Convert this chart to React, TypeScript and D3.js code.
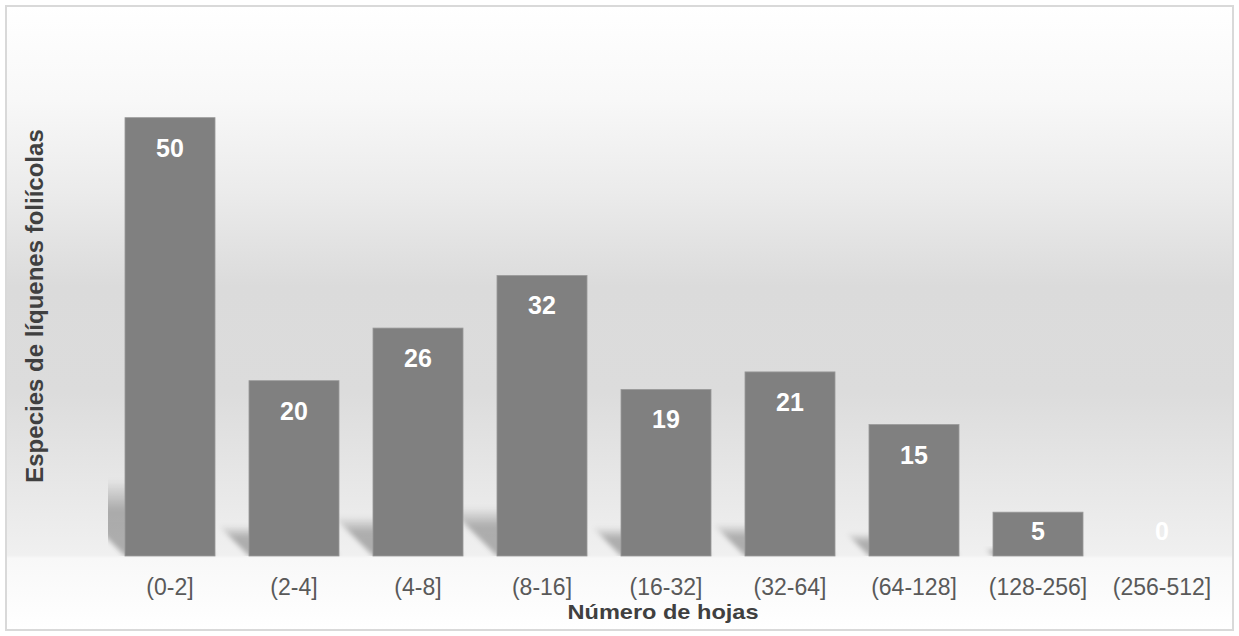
import React from "react";
import * as d3 from "d3";

const categories = ["(0-2]", "(2-4]", "(4-8]", "(8-16]", "(16-32]", "(32-64]", "(64-128]", "(128-256]", "(256-512]"];
const values = [50, 20, 26, 32, 19, 21, 15, 5, 0];
const yTitle = "Especies de líquenes foliícolas";
const xTitle = "Número de hojas";

const W = 1239;
const H = 636;
const plot = { left: 108, right: 1224, top: 30, bottom: 556 };
const font = "'Liberation Sans', Arial, sans-serif";

export default function App() {
  const x = d3
    .scaleBand<string>()
    .domain(categories)
    .range([plot.left, plot.right])
    .paddingInner(0.274)
    .paddingOuter(0.137);
  const y = d3.scaleLinear().domain([0, 60]).range([plot.bottom, plot.top]);
  const bw = x.bandwidth();
  const base = y(0);

  return (
    <svg
      width={W}
      height={H}
      style={{ position: "absolute", left: 0, top: 0, fontFamily: font }}
    >
      <defs>
        <linearGradient id="bg" x1="0" y1="0" x2="0" y2="1">
          <stop offset="0" stopColor="#ffffff" />
          <stop offset="0.15" stopColor="#f8f8f8" />
          <stop offset="0.3" stopColor="#ebebeb" />
          <stop offset="0.45" stopColor="#dbdbdb" />
          <stop offset="0.62" stopColor="#dcdcdc" />
          <stop offset="0.75" stopColor="#e6e6e6" />
          <stop offset="0.88" stopColor="#f0f0f0" />
          <stop offset="0.885" stopColor="#f8f8f8" />
          <stop offset="1" stopColor="#ffffff" />
        </linearGradient>
        <linearGradient id="shadowGrad" x1="0" y1="0" x2="0" y2="1">
          <stop offset="0" stopColor="#000" stopOpacity="0" />
          <stop offset="0.4" stopColor="#000" stopOpacity="0.27" />
          <stop offset="1" stopColor="#000" stopOpacity="0.28" />
        </linearGradient>
        <filter id="blur" x="-20%" y="-30%" width="140%" height="160%">
          <feGaussianBlur stdDeviation="2.5" />
        </filter>
        <clipPath id="plotClip">
          <rect x={plot.left} y={plot.top} width={plot.right - plot.left} height={base - plot.top} />
        </clipPath>
      </defs>

      <rect x={6} y={6} width={W - 12} height={H - 12} fill="url(#bg)" stroke="#d9d9d9" strokeWidth={2} />

      <g clipPath="url(#plotClip)">
        {categories.map((c, i) => {
          const x0 = x(c)!;
          const x1 = x0 + bw;
          const sh = (base - y(values[i])) * 0.175;
          if (sh <= 0) return null;
          const pts = [
            [x0, base],
            [x1, base],
            [x1 - sh, base - sh],
            [x0 - sh, base - sh],
          ]
            .map((p) => p.join(","))
            .join(" ");
          return <polygon key={"s" + c} points={pts} fill="url(#shadowGrad)" filter="url(#blur)" />;
        })}
      </g>

      {categories.map((c, i) => {
        const top = y(values[i]);
        return (
          <rect
            key={"b" + c}
            x={x(c)!}
            y={top}
            width={bw}
            height={base - top}
            fill="#808080"
            stroke="#9a9a9a"
            strokeWidth={0.8}
          />
        );
      })}

      {categories.map((c, i) => {
        const top = y(values[i]);
        const ly = Math.min(top + 39, base - 16);
        return (
          <text
            key={"l" + c}
            x={x(c)! + bw / 2}
            y={ly}
            textAnchor="middle"
            fill="#ffffff"
            fontWeight="bold"
            fontSize={25}
          >
            {values[i]}
          </text>
        );
      })}

      {categories.map((c) => (
        <text
          key={"t" + c}
          x={x(c)! + bw / 2}
          y={595}
          textAnchor="middle"
          fill="#595959"
          fontSize={23}
        >
          {c}
        </text>
      ))}

      <text
        x={663}
        y={619}
        textAnchor="middle"
        fill="#404040"
        fontWeight="bold"
        fontSize={21}
        textLength={191}
        lengthAdjust="spacingAndGlyphs"
      >
        {xTitle}
      </text>

      <text
        transform={`translate(43,306) rotate(-90)`}
        textAnchor="middle"
        fill="#404040"
        fontWeight="bold"
        fontSize={24}
      >
        {yTitle}
      </text>
    </svg>
  );
}
